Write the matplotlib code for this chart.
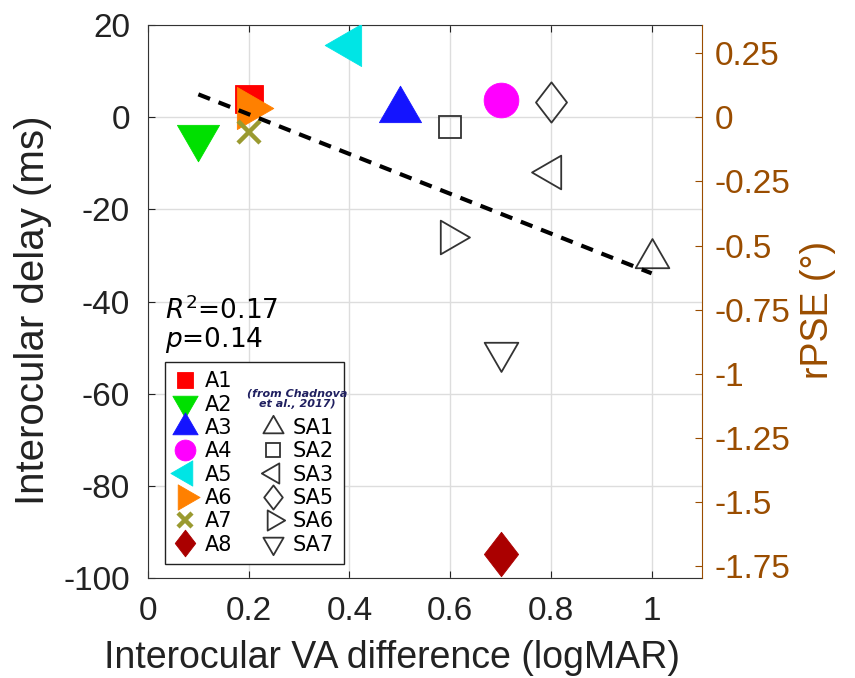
import numpy as np
import matplotlib
matplotlib.use('Agg')
import matplotlib.pyplot as plt
from matplotlib.path import Path
from matplotlib.lines import Line2D

plt.rcParams['axes.unicode_minus'] = False

# amblyopic observers (this study)
a_names = ['A1', 'A2', 'A3', 'A4', 'A5', 'A6', 'A7', 'A8']
a_va = [0.2, 0.1, 0.5, 0.7, 0.4, 0.2, 0.2, 0.7]
a_delay = [4.0, -4.3, 1.5, 3.7, 15.6, 2.0, -3.3, -94.8]

# observers from Chadnova et al., 2017
sa_names = ['SA1', 'SA2', 'SA3', 'SA5', 'SA6', 'SA7']
sa_va = [1.0, 0.6, 0.8, 0.8, 0.6, 0.7]
sa_delay = [-30.6, -2.2, -11.8, 3.3, -26.0, -51.0]

deg_per_ms = 0.01795  # scale of the rPSE axis
r2_text = '0.17'
p_text = '0.14'

# styles
a_shapes = ['square', 'down', 'up', 'circle', 'left', 'right', 'x', 'diamond']
a_colors = ['#ff0000', '#00e000', '#1414ff', '#ff00ff', '#00e5e5', '#ff8000', '#9a9a30', '#aa0000']
sa_shapes = ['up', 'square', 'left', 'diamond', 'right', 'down']
brown = '#9a4d00'


def tri(direction):
    h = np.sqrt(3) / 2
    v = np.array([[0, 2 * h / 3], [-0.5, -h / 3], [0.5, -h / 3]])
    if direction == 'down':
        v = v * [1, -1]
    elif direction == 'left':
        v = np.column_stack([-v[:, 1], v[:, 0]])
    elif direction == 'right':
        v = np.column_stack([v[:, 1], v[:, 0]])
    return Path(np.vstack([v, v[:1]]), closed=True)


diamond = Path(np.array([[0, 1], [0.77, 0], [0, -1], [-0.77, 0], [0, 1]]), closed=True)

# marker, size when filled, size when open
shape_style = {
    'up': (tri('up'), 35, 28),
    'down': (tri('down'), 35, 28),
    'left': (tri('left'), 35, 28),
    'right': (tri('right'), 35, 28),
    'square': ('s', 20, 16.5),
    'circle': ('o', 25, 20),
    'diamond': (diamond, 32, 29),
    'x': ('x', 16, 16),
}

fig = plt.figure(figsize=(8.55, 6.78), dpi=100)
ax = fig.add_axes([148 / 855, 1 - 578 / 678, 554 / 855, 553 / 678])

handles = []
for name, x, y, shp, col in zip(a_names, a_va, a_delay, a_shapes, a_colors):
    mk, size, _ = shape_style[shp]
    if shp == 'x':
        h, = ax.plot(x, y, linestyle='none', marker=mk, ms=size, mew=3.2, color=col, label=name, zorder=3)
    else:
        h, = ax.plot(x, y, linestyle='none', marker=mk, ms=size, mew=0.6, color=col, label=name, zorder=3)
    handles.append(h)

blank = [Line2D([], [], linestyle='none') for _ in range(2)]
handles += blank

for name, x, y, shp in zip(sa_names, sa_va, sa_delay, sa_shapes):
    mk, _, size = shape_style[shp]
    h, = ax.plot(x, y, linestyle='none', marker=mk, ms=size, mew=1.3, mec='#333333',
                 mfc='none', label=name, zorder=3)
    handles.append(h)

# linear fit over all observers
all_x = np.array(a_va + sa_va)
all_y = np.array(a_delay + sa_delay)
slope, icpt = np.polyfit(all_x, all_y, 1)
fx = np.array([all_x.min(), all_x.max()])
ax.plot(fx, slope * fx + icpt, color='black', lw=3, dashes=(3, 2.2), zorder=4)

ax.set_xlim(0, 1.1)
ax.set_ylim(-100, 20)
ax.set_xticks(np.arange(0, 1.01, 0.2))
ax.set_xticklabels([f'{v:g}' for v in np.arange(0, 1.01, 0.2)])
ax.set_yticks(np.arange(-100, 21, 20))
ax.grid(color='#dddddd', linewidth=1.0)
ax.set_axisbelow(True)
ax.tick_params(direction='in', top=True, right=False, length=5, width=0.8,
               labelsize=24, colors='#222222')
ax.tick_params(axis='y', pad=13)
ax.tick_params(axis='x', pad=13)
for lab in ax.get_xticklabels() + ax.get_yticklabels():
    lab.set_family('Liberation Sans')
for s in ['left', 'top', 'bottom']:
    ax.spines[s].set_color('#333333')
ax.spines['right'].set_visible(False)

ax.set_xlabel('Interocular VA difference (logMAR)', fontsize=27, family='Liberation Sans',
              color='#222222')
ax.xaxis.set_label_coords(0.44, -0.112)
ax.set_ylabel('Interocular delay (ms)', fontsize=29, family='Liberation Sans',
              color='#222222')
ax.yaxis.set_label_coords(-0.173, 0.485)

ax2 = ax.twinx()
ax2.set_ylim(np.array(ax.get_ylim()) * deg_per_ms)
rt = np.arange(-1.75, 0.26, 0.25)
ax2.set_yticks(rt)
ax2.set_yticklabels([f'{v:g}' for v in rt])
ax2.tick_params(direction='in', length=5, width=0.8, labelsize=24, colors=brown, pad=9)
for lab in ax2.get_yticklabels():
    lab.set_family('Liberation Sans')
for s in ['left', 'top', 'bottom']:
    ax2.spines[s].set_visible(False)
ax2.spines['right'].set_color(brown)
ax2.set_ylabel('rPSE (°)', fontsize=27, family='Liberation Sans', color=brown)
ax2.yaxis.set_label_coords(1.177, 0.485)

# fit statistics, one block of two lines
stats = r'$R^2$=' + r2_text + '\n' + r'$p$=' + p_text
ax.text(0.031, 0.418, stats, transform=ax.transAxes, fontsize=19, va='baseline',
        linespacing=1.0)

labels = a_names + ['', ''] + sa_names
leg = ax.legend(handles, labels, ncol=2, loc='lower left', bbox_to_anchor=(0.0307, 0.0253),
                borderaxespad=0, fontsize=15, markerscale=0.6, handlelength=1.0,
                handletextpad=0.46, columnspacing=1.45, labelspacing=0.16, borderpad=0.45,
                fancybox=False, framealpha=1, edgecolor='#222222')
leg.get_frame().set_linewidth(1.0)
leg.set_zorder(10)

ax.text(0.269, 0.3237, '(from Chadnova\net al., 2017)', transform=ax.transAxes, ha='center',
        va='center', fontsize=8, style='italic', weight='bold', color='#202060',
        linespacing=1.1, zorder=11)

fig.savefig('out.png', dpi=100)
